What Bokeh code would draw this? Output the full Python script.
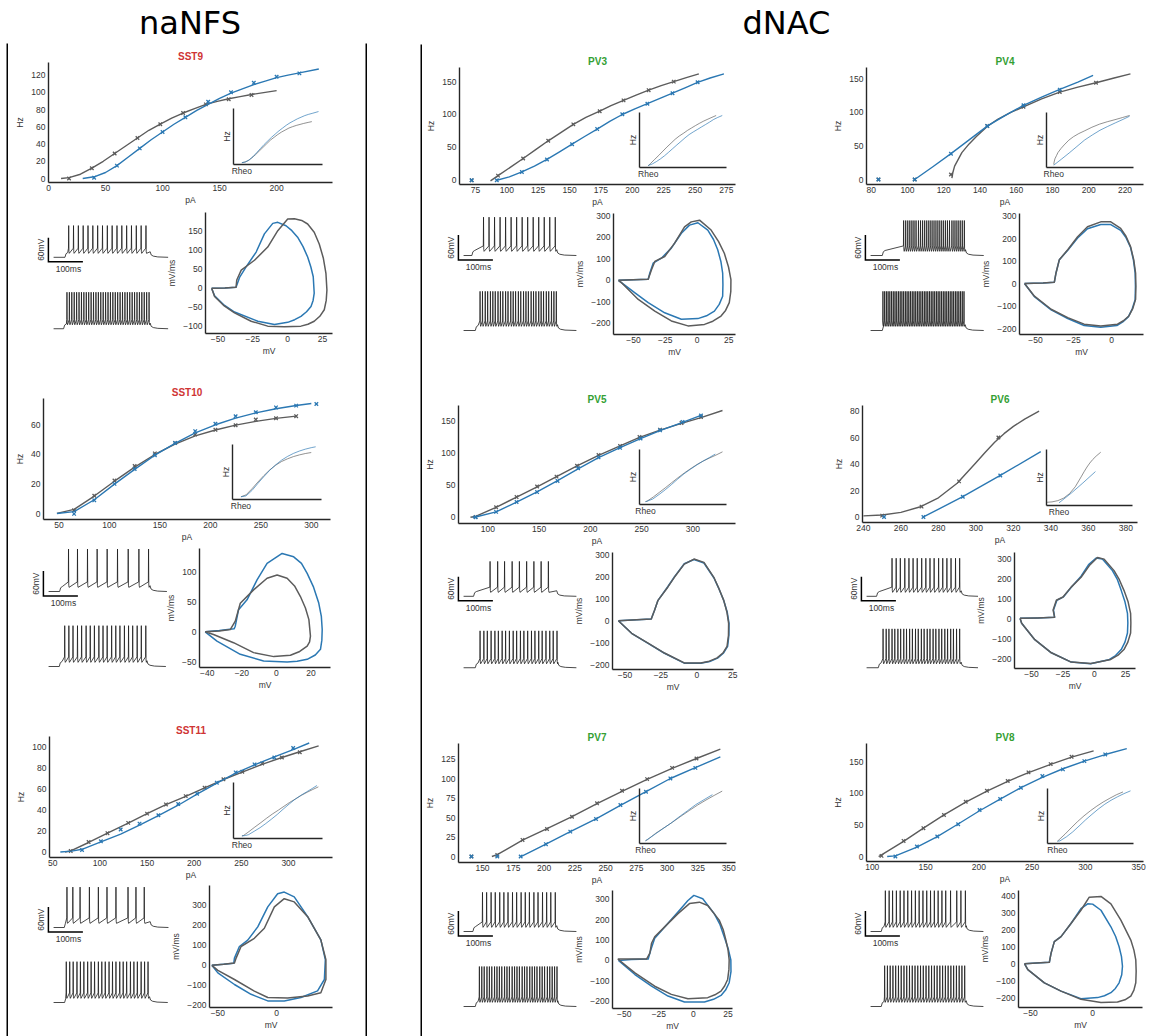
import numpy as np
from bokeh.plotting import figure
from bokeh.models import GridBox, Range1d, FixedTicker, CustomJSTickFormatter
from bokeh.embed import file_html
from bokeh.resources import INLINE
from bokeh.core.properties import value

# ============================ DATA ============================
group_titles = ["naNFS", "dNAC"]
cell_names = ["SST9", "SST10", "SST11", "PV3", "PV4", "PV5", "PV6", "PV7", "PV8"]

# ---------- SST9 ----------
sst9_mk_gray_x = [18, 38, 58, 78, 98, 118, 138, 158, 178]
sst9_mk_gray_y = [0, 12, 29, 47, 63, 76, 86, 92, 97]
sst9_fit_gray_x = [11, 18, 28, 38, 48, 58, 68, 78, 88, 98, 108, 118, 128, 138, 148, 158, 168, 178, 190, 200]
sst9_fit_gray_y = [0, 1, 5, 12, 20, 29, 38, 47, 56, 63, 70, 76, 81, 86, 89.5, 92.5, 95, 97.5, 100, 102]
sst9_mk_blue_x = [40, 60, 80, 100, 120, 140, 160, 180, 200, 220]
sst9_mk_blue_y = [1, 15, 35, 54, 71, 89, 100, 111, 118, 122]
sst9_fit_blue_x = [30, 40, 50, 60, 70, 80, 90, 100, 110, 120, 130, 140, 150, 160, 170, 180, 190, 200, 210, 220, 237]
sst9_fit_blue_y = [0, 2, 7, 15, 25, 35, 45, 54, 63, 71, 79, 86, 93, 99, 104, 109, 113, 117, 120, 122.5, 127]
sst9_rheo = [11, 30]
sst9_fi_xticks = [0, 50, 100, 150, 200]
sst9_fi_yticks = [0, 20, 40, 60, 80, 100, 120]
sst9_pp_gray_v = [-54.5, -45, -37, -36.5, -33.3, -23.8, -14.3, -7.1, 0, 4.8, 10, 14.3, 19, 22.6, 25.5, 27.4, 28.1, 27.6, 26.2, 23, 19, 14.5, 9.5, -2.4, -14.3, -26.2, -38.1, -46, -52.4, -54.5]
sst9_pp_gray_dv = [0, 1, 3, 21.7, 47.8, 73.9, 108.7, 152, 182.7, 183.5, 179, 169.7, 148, 117, 80, 39, -4.4, -32, -56.7, -74, -87, -95, -100, -101.8, -100, -87, -65, -45, -21.9, 0]
sst9_pp_blue_v = [-54.5, -45, -37, -34.5, -29.8, -22.6, -16.7, -10.7, -7.1, -1.2, 3, 7.1, 11, 14.3, 16.6, 18.3, 19, 18.2, 16.7, 13.5, 9.5, 5, 0, -9.5, -21.4, -38.1, -46, -52.4, -54.5]
sst9_pp_blue_dv = [0, 1, 3, 28.7, 56.4, 95.6, 143.6, 171.3, 174, 165, 152, 134.7, 110, 82.5, 56, 30.3, -13, -32, -48, -62, -74, -83, -90, -95.8, -87, -62.7, -43, -20, 0]
sst9_pp_xticks = [-50, -25, 0, 25]
sst9_pp_yticks = [-100, -50, 0, 50, 100, 150]
sst9_tr_top_spikes = [44, 58, 72, 86, 100, 114, 128, 142, 156, 170, 184, 198, 212, 226, 240, 254, 268]
sst9_tr_bot_spikes = [39, 46, 53, 60, 67, 74, 81, 88, 95, 102, 109, 116, 123, 130, 137, 144, 151, 158, 165, 172,
                      179, 186, 193, 200, 207, 214, 221, 228, 235, 242, 249, 256, 263, 270, 277]
sst9_tr_top_timing = [33, 280, 332]
sst9_tr_bot_timing = [29, 280, 332]
sst9_tr_peaks = [10, 22]

# ---------- SST10 ----------
sst10_mk_gray_x = [65, 85, 105, 125, 145, 165, 185, 205, 225, 245, 265, 285]
sst10_mk_gray_y = [2.4, 12.2, 22.4, 32.2, 40.7, 47.8, 53.5, 56.6, 59.7, 63.5, 64.4, 65.8]
sst10_fit_gray_x = [48, 65, 85, 105, 125, 145, 165, 185, 205, 225, 245, 265, 285]
sst10_fit_gray_y = [0.3, 3, 12, 22, 31.5, 40, 47, 52.5, 56.5, 59.8, 62.3, 64.3, 65.8]
sst10_mk_blue_x = [65, 85, 105, 125, 145, 165, 185, 205, 225, 245, 265, 285, 305]
sst10_mk_blue_y = [0, 9.1, 20.2, 30.2, 39.5, 47.7, 55.7, 60.7, 65.7, 68.4, 71.7, 72.9, 74]
sst10_fit_blue_x = [48, 65, 85, 105, 125, 145, 165, 185, 205, 225, 245, 265, 285, 300]
sst10_fit_blue_y = [0.2, 1.5, 9.5, 20, 30, 39.5, 47.5, 54.5, 60, 64.5, 68, 70.8, 73, 74.3]
sst10_rheo = [48, 48]
sst10_fi_xticks = [50, 100, 150, 200, 250, 300]
sst10_fi_yticks = [0, 20, 40, 60]
sst10_pp_gray_v = [-41.2, -33, -26.7, -23.8, -20.9, -13.2, -5.4, 0.4, 6.2, 10.5, 13.9, 16.8, 18.8, 19.7, 19.2, 17.8, 13.5, 8.1, -1.5, -13.2, -24.8, -36.4, -41.2]
sst10_pp_gray_dv = [0, 1.5, 3.8, 17.8, 48, 70.5, 90, 95.5, 90, 77, 59.3, 40, 20.5, -7.3, -17, -24, -33, -39.5, -41.7, -35, -18.3, -4.5, 0]
sst10_pp_blue_v = [-41.2, -33, -24.5, -23.8, -21.9, -17, -11.2, -5.4, 3.3, 10, 14.5, 17.8, 21.5, 24.5, 26, 26.5, 26.3, 25.5, 22.5, 17.8, 12, 6.2, -7.4, -20.9, -34.4, -41.2]
sst10_pp_blue_dv = [0, 2, 5, 9.4, 37.2, 53.8, 87.2, 115, 131.7, 126, 115, 98.3, 75, 48.3, 26, 3.8, -14, -29.5, -39, -46.2, -49.5, -50.6, -49, -37.8, -15.6, 0]
sst10_pp_xticks = [-40, -20, 0, 20]
sst10_pp_yticks = [-50, 0, 50, 100]
sst10_tr_top_spikes = [58, 84, 113, 141, 170, 200, 231, 262, 290]
sst10_tr_bot_spikes = [47, 59, 71, 84, 96, 109, 121, 133, 146, 158, 170, 183, 195, 207, 220, 232, 244, 257, 269, 282]
sst10_tr_top_timing = [32, 294, 343]
sst10_tr_bot_timing = [31, 285, 340]
sst10_tr_peaks = [32, 28]

# ---------- SST11 ----------
sst11_mk_gray_x = [69, 88, 108, 130, 150, 170, 191, 211, 231, 251, 272, 293, 312]
sst11_mk_gray_y = [0.9, 9.4, 17.9, 27.7, 36.5, 45.3, 53.2, 61.3, 69.2, 76.4, 84.3, 90, 95]
sst11_fit_gray_x = [63, 69, 88, 108, 130, 150, 170, 191, 211, 231, 251, 272, 293, 312, 332]
sst11_fit_gray_y = [0, 1, 9, 18, 27.5, 36.5, 45, 53, 61, 69, 76, 83.5, 90, 95.5, 101]
sst11_mk_blue_x = [81, 101, 122, 142, 162, 183, 203, 224, 244, 264, 285, 305]
sst11_mk_blue_y = [1.9, 10.1, 21.4, 27, 34.9, 45.7, 55.4, 66, 75.8, 83.4, 90, 99]
sst11_fit_blue_x = [58, 70, 81, 101, 122, 142, 162, 183, 203, 224, 244, 264, 285, 305, 322]
sst11_fit_blue_y = [0, 0.8, 2.5, 9.5, 17, 25.5, 34.5, 44.5, 55, 65.5, 75, 83, 90.5, 97.5, 103.8]
sst11_rheo = [63, 58]
sst11_fi_xticks = [50, 100, 150, 200, 250, 300]
sst11_fi_yticks = [0, 20, 40, 60, 80, 100]
sst11_pp_gray_v = [-55.1, -45, -35.9, -34.5, -30.3, -19, -10.5, -2, 6.4, 14.9, 26.3, 37.5, 41.8, 41.8, 37.5, 26.3, 9.3, -7.6, -19, -35.9, -50, -55.1]
sst11_pp_gray_dv = [0, 5, 11.5, 36, 94, 135, 185, 292, 333, 317, 243, 127, 28, -71, -137, -153, -163, -161, -129, -71, -25, 0]
sst11_pp_blue_v = [-55.1, -45, -36.5, -35.9, -31.7, -24.6, -16.1, -7.6, 0.8, 6.4, 14.9, 26.3, 37.5, 41.3, 40.5, 34.7, 20.6, 6.4, -7.6, -21.8, -35.9, -50, -55.1]
sst11_pp_blue_dv = [0, 5, 10, 36, 94, 126, 192, 292, 358, 366, 342, 243, 127, 28, -71, -128, -161, -178, -178, -145, -96, -38, 0]
sst11_pp_xticks = [-50, 0]
sst11_pp_yticks = [-200, -100, 0, 100, 200, 300]
sst11_tr_top_spikes = [39, 56, 77, 104, 130, 155, 181, 216, 239, 263]
sst11_tr_bot_spikes = [37, 47, 57, 68, 78, 88, 99, 109, 119, 130, 140, 150, 161, 171, 181, 192, 202, 212, 223, 233, 243, 254, 264, 274]
sst11_tr_top_timing = [31, 280, 333]
sst11_tr_bot_timing = [32, 278, 331]
sst11_tr_peaks = [27, 28]

# ---------- PV3 ----------
pv3_mk_gray_x = [72, 93, 113, 133, 153, 174, 193, 213, 233]
pv3_mk_gray_y = [0, 7, 33, 60, 85, 105, 121.5, 137, 150]
pv3_fit_gray_x = [87, 93, 103, 113, 123, 133, 143, 153, 163, 174, 183, 193, 203, 213, 223, 233, 243, 253]
pv3_fit_gray_y = [-1, 7, 20, 33, 46.5, 60, 72.5, 85, 95.5, 105, 113.5, 121.5, 129.5, 137, 144, 150, 156, 161.7]
pv3_mk_blue_x = [72, 92, 112, 132, 152, 172, 192, 212, 232, 252]
pv3_mk_blue_y = [0, 0, 12.6, 31.6, 54.8, 77.8, 100.4, 116.4, 132.4, 149]
pv3_fit_blue_x = [92, 102, 112, 122, 132, 142, 152, 162, 172, 182, 192, 202, 212, 222, 232, 242, 252, 262, 273]
pv3_fit_blue_y = [0, 5, 12.6, 21.5, 31.6, 43, 54.8, 66.5, 77.8, 89.5, 100, 108.5, 116.4, 124.5, 132.4, 140.5, 149, 155.5, 161.7]
pv3_rheo = [87, 92]
pv3_fi_xticks = [75, 100, 125, 150, 175, 200, 225, 250, 275]
pv3_fi_yticks = [0, 50, 100, 150]
pv3_pp_gray_v = [-61.8, -50, -38.4, -35.8, -33.2, -25.4, -17.6, -9.8, -4.5, 2, 11.1, 17, 21.5, 24.8, 26.7, 26.6, 25.4, 22.5, 18.9, 12.5, 5.9, -7.1, -20.2, -33.2, -46.2, -59.2, -61.8]
pv3_pp_gray_dv = [0, 3, 5, 49, 88, 111, 173, 249, 272, 280, 234, 180, 126, 62, 3, -52, -104, -140, -166, -190, -205, -212, -189, -143, -89, -12, 0]
pv3_pp_blue_v = [-61.8, -50, -38.4, -37.1, -34.5, -28, -20.2, -12.3, -5.9, 0.7, 8.5, 13, 16.3, 18.8, 20.2, 20.4, 20.2, 17.5, 13.7, 7.5, 0.7, -12.3, -25.4, -38.4, -48.8, -59.2, -61.8]
pv3_pp_blue_dv = [0, 3, 5, 34, 80, 103, 150, 219, 257, 268, 234, 190, 142, 88, 34, -20, -74, -112, -143, -165, -178, -181, -151, -104, -58, -12, 0]
pv3_pp_xticks = [-50, -25, 0, 25]
pv3_pp_yticks = [-200, -100, 0, 100, 200, 300]
pv3_tr_top_spikes = [58, 74, 90, 106, 122, 138, 154, 170, 186, 202, 218, 234, 250, 266]
pv3_tr_bot_spikes = [48, 55, 63, 70, 78, 85, 92, 100, 107, 114, 122, 129, 137, 144, 151, 159, 166, 174, 181, 188,
                     196, 203, 210, 218, 225, 232, 240, 247, 255, 262, 269]
pv3_tr_top_timing = [24, 270, 327]
pv3_tr_bot_timing = [34, 272, 327]
pv3_tr_peaks = [22, 24]

# ---------- PV4 ----------
pv4_mk_gray_x = [84, 104, 124, 144, 164, 184, 204]
pv4_mk_gray_y = [0, 0, 7.4, 79.6, 108.2, 130.3, 144]
pv4_fit_gray_x = [124.5, 125, 126, 128, 130, 134, 138, 144, 150, 157, 164, 174, 184, 194, 204, 214, 223]
pv4_fit_gray_y = [2, 10, 20, 30, 40, 53, 64, 79, 90, 100, 108, 120, 130, 137.5, 144, 151, 157.3]
pv4_mk_blue_x = [84, 104, 124, 144, 164, 184]
pv4_mk_blue_y = [0, 0, 38.3, 79.6, 110.6, 133.8]
pv4_fit_blue_x = [104, 114, 124, 134, 144, 154, 164, 174, 184, 194, 202.4]
pv4_fit_blue_y = [0, 19, 38.5, 59, 79.5, 95.5, 110.5, 122.5, 134, 145, 154.9]
pv4_rheo = [124.5, 104]
pv4_fi_xticks = [80, 100, 120, 140, 160, 180, 200, 220]
pv4_fi_yticks = [0, 50, 100, 150]
pv4_pp_gray_v = [-57.2, -45, -37.6, -36.5, -34.3, -28.8, -22.3, -15.8, -7.1, -0.5, 6, 9.5, 12.5, 14.6, 15.8, 16, 15.8, 14, 11.4, 7.8, 3.9, -7.1, -18, -28.8, -39.7, -50.7, -57.2]
pv4_pp_gray_dv = [0, 3, 6, 47, 106, 150, 208, 252, 274, 274, 245, 210, 164, 105, 47, -12, -70, -110, -144, -165, -180, -188, -180, -151, -114, -56, 0]
pv4_pp_blue_v = [-57.2, -45, -37.6, -36.5, -34.3, -28.8, -22.3, -15.8, -7.1, -0.5, 6, 9.5, 12.5, 14.4, 15.5, 15.7, 15.5, 13.6, 11, 7.4, 3.5, -7.1, -18, -28.8, -39.7, -50.7, -57.2]
pv4_pp_blue_dv = [0, 3, 6, 47, 106, 148, 202, 243, 262, 262, 236, 204, 160, 104, 47, -12, -72, -112, -148, -170, -186, -194, -186, -155, -117, -58, 0]
pv4_pp_xticks = [-50, -25, 0]
pv4_pp_yticks = [-200, -100, 0, 100, 200, 300]
pv4_tr_top_spikes = [96, 102, 108, 114, 120, 126, 132, 139, 145, 151, 157, 163, 169, 175, 181, 187, 193, 199, 205, 211,
                     217, 223, 229, 236, 242, 248, 254, 260, 266, 272]
pv4_tr_bot_spikes = [36, 41, 46, 51, 56, 61, 66, 71, 76, 81, 86, 91, 96, 101, 106, 111, 116, 121, 126, 131, 136, 141,
                     146, 151, 156, 161, 166, 171, 176, 181, 186, 191, 196, 201, 206, 211, 216, 221, 226, 231, 236,
                     241, 246, 251, 256, 261, 266, 271]
pv4_tr_top_timing = [34, 275, 328]
pv4_tr_bot_timing = [34, 274, 328]
pv4_tr_peaks = [14, 24]

# ---------- PV5 ----------
pv5_mk_gray_x = [88, 108, 128, 148, 167, 187, 208, 229, 248, 268, 289, 308]
pv5_mk_gray_y = [0.6, 15.5, 31.5, 48, 63.4, 80.4, 97, 111.3, 125.2, 136.7, 147, 156.2]
pv5_fit_gray_x = [83, 88, 108, 128, 148, 167, 187, 208, 229, 248, 268, 289, 308, 329]
pv5_fit_gray_y = [0, 1.5, 15.5, 31.5, 47.5, 63.5, 80, 96.5, 111.5, 124.5, 136, 146.5, 155.5, 166.5]
pv5_mk_blue_x = [88, 108, 128, 148, 168, 188, 208, 229, 249, 268, 290, 308]
pv5_mk_blue_y = [0, 8.4, 23.8, 39.3, 56.7, 76.4, 93.4, 108.3, 122.8, 135.6, 148.8, 158.8]
pv5_fit_blue_x = [85, 88, 108, 128, 148, 168, 188, 208, 229, 249, 268, 290, 308]
pv5_fit_blue_y = [0, 0.5, 8.5, 23.5, 39.5, 57, 75.5, 93, 108.5, 122.5, 135, 148, 159]
pv5_rheo = [83, 85]
pv5_fi_xticks = [100, 150, 200, 250, 300]
pv5_fi_yticks = [0, 50, 100, 150]
pv5_pp_gray_v = [-54.6, -45, -31.7, -29.4, -27, -20.2, -15.6, -8.7, -1.9, 5, 11.9, 15.5, 18.8, 21, 22.2, 22.1, 21.1, 18.2, 14.2, 8.8, 2.8, -8.7, -22.5, -33.9, -45.4, -54.6]
pv5_pp_gray_dv = [0, 3, 8, 48, 93, 153, 198, 258, 281, 266, 198, 146, 93, 40, -12, -66, -117, -147, -169, -184, -192, -192, -147, -102, -57, 0]
pv5_pp_blue_v = [-54.6, -45, -31.7, -29.4, -27, -20.2, -15.6, -8.7, -1.9, 5, 11.9, 15.5, 18.8, 21.2, 22.5, 22.4, 21.5, 18.5, 14.5, 9, 2.8, -8.7, -22.5, -33.9, -45.4, -54.6]
pv5_pp_blue_dv = [0, 3, 8, 48, 93, 155, 200, 260, 279, 263, 196, 145, 92, 40, -12, -66, -117, -148, -170, -186, -194, -193, -148, -103, -57, 0]
pv5_pp_xticks = [-50, -25, 0, 25]
pv5_pp_yticks = [-200, -100, 0, 100, 200, 300]
pv5_tr_top_spikes = [77, 99, 119, 141, 162, 183, 204, 225, 246]
pv5_tr_bot_spikes = [48, 59, 69, 80, 91, 101, 112, 122, 133, 144, 154, 165, 175, 186, 197, 207, 218, 228, 239, 250, 260, 271]
pv5_tr_top_timing = [29, 270, 327]
pv5_tr_bot_timing = [34, 273, 327]
pv5_tr_peaks = [18, 23]

# ---------- PV6 ----------
pv6_mk_gray_x = [250, 271, 291, 312]
pv6_mk_gray_y = [1, 7.8, 26.9, 60.1]
pv6_fit_gray_x = [240, 250, 260, 270, 280, 290, 300, 305, 310, 315, 320, 326, 333.7]
pv6_fit_gray_y = [0.8, 1.5, 3.5, 7.5, 14.5, 25.5, 41, 49, 56.5, 63, 68.5, 74, 80]
pv6_mk_blue_x = [251, 272, 293, 313]
pv6_mk_blue_y = [0, 0, 15.3, 31.4]
pv6_fit_blue_x = [272, 293, 313, 334.6]
pv6_fit_blue_y = [0, 15.3, 31.4, 49.4]
pv6_rheo = [262, 272]
pv6_fi_xticks = [240, 260, 280, 300, 320, 340, 360, 380]
pv6_fi_yticks = [0, 20, 40, 60, 80]
pv6_pp_gray_v = [-59.2, -45, -31.6, -32.8, -30.2, -24.9, -18.4, -10.5, -3.9, 2.6, 7.9, 15.8, 20, 23.7, 27, 29, 29.2, 29, 26.8, 23.7, 19, 13.2, -2.6, -18.4, -34.2, -47.4, -57.9, -59.2]
pv6_pp_gray_dv = [3, 5, 8, 44, 93, 109, 158, 207, 265, 305, 297, 240, 195, 142, 85, 28, -20, -70, -115, -152, -180, -201, -221, -214, -168, -103, -21, 3]
pv6_pp_blue_v = [-59.2, -45, -31.6, -32.5, -29.8, -24.5, -18, -10.5, -4.5, 1.5, 6.5, 14.5, 18.5, 21.5, 24.5, 26.5, 26.8, 26.5, 24.5, 21.5, 17, 11.5, -3, -18.4, -34.2, -47.4, -57.9, -59.2]
pv6_pp_blue_dv = [3, 5, 8, 44, 93, 110, 160, 212, 270, 303, 298, 240, 195, 142, 85, 28, -20, -70, -115, -152, -182, -203, -222, -214, -168, -103, -21, 3]
pv6_pp_xticks = [-50, -25, 0, 25]
pv6_pp_yticks = [-200, -100, 0, 100, 200, 300]
pv6_tr_top_spikes = [74, 86, 98, 111, 123, 135, 147, 160, 172, 184, 196, 209, 221, 233, 245, 258, 270]
pv6_tr_bot_spikes = [48, 57, 65, 74, 82, 91, 99, 108, 116, 125, 133, 142, 150, 159, 167, 176, 184, 193, 201, 210,
                     218, 227, 235, 244, 252, 261, 270]
pv6_tr_top_timing = [29, 274, 323]
pv6_tr_bot_timing = [34, 274, 323]
pv6_tr_peaks = [26, 28]

# ---------- PV7 ----------
pv7_mk_gray_x = [141, 162, 182.5, 202.4, 222.7, 243, 263.3, 283.7, 304, 323.8]
pv7_mk_gray_y = [0, 2.1, 21.4, 35.5, 51.3, 68.5, 84.7, 99.7, 114.2, 126.3]
pv7_fit_gray_x = [157.6, 162, 172, 182.5, 202.4, 222.7, 243, 263.3, 283.7, 304, 323.8, 343.2]
pv7_fit_gray_y = [0, 2.5, 11.5, 21, 36, 51.5, 68, 84, 99.5, 113.5, 126.3, 138.3]
pv7_mk_blue_x = [141, 162, 181, 201.5, 221.3, 242.2, 262, 282.8, 302.6, 322.9]
pv7_mk_blue_y = [0, 0, 0, 15.9, 32.1, 48.4, 66.4, 83.4, 100.6, 114.2]
pv7_fit_blue_x = [181.2, 191, 201.5, 221.3, 242.2, 262, 282.8, 302.6, 322.9, 343.2]
pv7_fit_blue_y = [0, 7.5, 15.9, 32, 48.5, 66, 83.5, 100.5, 114.5, 128.4]
pv7_rheo = [157.6, 181.2]
pv7_fi_xticks = [150, 175, 200, 225, 250, 275, 300, 325, 350]
pv7_fi_yticks = [0, 25, 50, 75, 100, 125]
pv7_pp_gray_v = [-54.7, -45, -33.9, -31.5, -30.3, -28, -20.8, -11.2, -2.9, 4.3, 10.3, 18.6, 21.5, 23.4, 25, 25.8, 25.6, 24.7, 22.5, 19.9, 15.5, 10.3, -4, -16, -28, -42.3, -54.7]
pv7_pp_gray_dv = [7, 7, 7, 36, 84, 116, 164, 229, 278, 285, 269, 197, 150, 100, 50, 3, -45, -93, -125, -150, -168, -182, -187, -166, -126, -61, 7]
pv7_pp_blue_v = [-54.2, -45, -32.7, -30.8, -28, -20.8, -11.2, -4, 0.3, 6.7, 15, 19.2, 22.2, 25, 27, 27.1, 25.8, 23.2, 19.9, 14.5, 7.9, -6.5, -18.4, -30.3, -42.3, -54.2]
pv7_pp_blue_dv = [0, 5, 7, 52, 108, 164, 237, 293, 318, 302, 229, 175, 116, 60, 3, -55, -109, -145, -171, -190, -203, -203, -174, -126, -69, 0]
pv7_pp_xticks = [-50, -25, 0, 25]
pv7_pp_yticks = [-200, -100, 0, 100, 200, 300]
pv7_tr_top_spikes = [55, 67, 80, 92, 105, 117, 129, 142, 154, 167, 179, 191, 204, 216, 229, 241, 253, 266]
pv7_tr_bot_spikes = [46, 53, 60, 68, 75, 82, 90, 97, 104, 111, 119, 126, 133, 141, 148, 155, 162, 170, 177, 184,
                     192, 199, 206, 213, 221, 228, 235, 243, 250, 257, 264, 271]
pv7_tr_top_timing = [27, 270, 327]
pv7_tr_bot_timing = [34, 273, 327]
pv7_tr_peaks = [24, 26]

# ---------- PV8 ----------
pv8_mk_gray_x = [108.7, 129.4, 148, 167.3, 187.7, 207.6, 227.1, 246.6, 267.4, 287]
pv8_mk_gray_y = [1, 24.7, 44.9, 65.8, 86.8, 104.2, 119.5, 133.3, 146.3, 157.9]
pv8_fit_gray_x = [106, 108.7, 129.4, 148, 167.3, 187.7, 207.6, 227.1, 246.6, 267.4, 287, 307.7]
pv8_fit_gray_y = [0, 2.5, 24, 45, 66, 86, 103.5, 119, 133, 146, 157.5, 167.4]
pv8_mk_blue_x = [121.7, 141.9, 161, 180.6, 200.7, 220, 239.5, 259.6, 278.9, 299, 318.6]
pv8_mk_blue_y = [0, 15.8, 31.6, 51.2, 73.7, 91.1, 108.9, 127.4, 138, 151.1, 161.7]
pv8_fit_blue_x = [114, 121.7, 141.9, 161, 180.6, 200.7, 220, 239.5, 259.6, 278.9, 299, 318.6, 338.8]
pv8_fit_blue_y = [0, 1, 15, 31.5, 51.5, 72.5, 91, 109, 125.5, 139, 151, 161.5, 171]
pv8_rheo = [106, 114]
pv8_fi_xticks = [100, 150, 200, 250, 300, 350]
pv8_fi_yticks = [0, 50, 100, 150]
pv8_pp_gray_v = [-54.8, -45, -34.8, -33.4, -30.8, -25.4, -17.4, -9.4, -2.7, 6.7, 14.7, 22.7, 30.7, 33.2, 34.7, 35, 34.7, 33.2, 30.7, 26, 20, 6.7, -9.4, -25.4, -38.8, -52.1, -54.8]
pv8_pp_gray_dv = [0, 4, 8, 62, 130, 159, 236, 314, 391, 395, 352, 256, 139, 80, 23, -45, -112, -155, -190, -212, -225, -228, -209, -161, -112, -35, 0]
pv8_pp_blue_v = [-54.8, -45, -34.8, -33.4, -30.8, -25.4, -17.4, -9.4, -4, 0, 6.7, 14.7, 18.5, 21.3, 23.2, 24, 23.4, 21.3, 18.3, 14.7, 9.5, 4, -9.4, -25.4, -38.8, -52.1, -54.8]
pv8_pp_blue_dv = [0, 4, 8, 62, 130, 159, 236, 323, 352, 350, 314, 217, 160, 100, 42, -15, -65, -112, -145, -170, -188, -199, -205, -161, -112, -35, 0]
pv8_pp_xticks = [-50, 0]
pv8_pp_yticks = [-200, -100, 0, 100, 200, 300, 400]
pv8_tr_top_spikes = [43, 54, 64, 75, 86, 97, 108, 119, 130, 141, 152, 163, 174, 185, 196, 207, 218, 232, 250, 262, 275]
pv8_tr_bot_spikes = [41, 49, 57, 65, 73, 81, 89, 97, 105, 113, 121, 129, 137, 145, 153, 161, 169, 177, 185, 193,
                     201, 209, 217, 225, 233, 241, 249, 257, 265, 273]
pv8_tr_top_timing = [31, 277, 327]
pv8_tr_bot_timing = [31, 277, 327]
pv8_tr_peaks = [28, 28]

# voltage levels of the traces (mV)
V_REST, V_PLAT, V_THR, V_AHP = -70, -58, -47, -60

# ============================ LAYOUT ============================
OX, OY = 0, 0
W, H = 1151, 1036
GRAY, BLUE = "#5c5c5c", "#2b78b3"
SPINE, TXT = "#262626", "#333333"
FONT = "Liberation Sans"
RED, GREEN = "#cf3434", "#34a034"
PX_MS, PX_MV = 0.345, 25.0 / 60.0
BOT_OFFSET = -180.0

# page-pixel frames (left, top, right, bottom) and axis limits
LAYOUT = {
    "SST9":  dict(color=RED, fi=(48, 62, 332, 183), fix=(0, 249), fiy=(-4.6, 134.6),
                  inset=(233, 108, 322, 165), insx=(-22.7, 217.8),
                  pp=(204, 212, 332, 334), ppx=(-58.9, 32.1), ppy=(-119.4, 200), tr=(53, 253)),
    "SST10": dict(color=RED, fi=(43, 398, 330, 520), fix=(34.7, 319), fiy=(-3.8, 77.7),
                  inset=(232, 444, 321, 500), insx=(-28.5, 271.6),
                  pp=(199, 548, 330, 668), ppx=(-44.5, 31.3), ppy=(-60, 140), tr=(48, 591)),
    "SST11": dict(color=RED, fi=(49, 736, 332, 858), fix=(46.5, 346.7), fiy=(-5.3, 110),
                  inset=(233, 782, 322, 839), insx=(-29.6, 283.6),
                  pp=(208, 885, 332, 1008), ppx=(-57.1, 47.4), ppy=(-211, 399), tr=(53, 927)),
    "PV3":   dict(color=GREEN, fi=(459, 67, 735, 185), fix=(62.3, 282.2), fiy=(-6.5, 171.5),
                  inset=(639, 112, 726, 168), insx=(-21.3, 191.4),
                  pp=(612, 213, 735, 335), ppx=(-65.7, 30.3), ppy=(-252, 311), tr=(463, 255)),
    "PV4":   dict(color=GREEN, fi=(866, 67, 1143, 185), fix=(77.4, 230.2), fiy=(-7.4, 166.7),
                  inset=(1046, 112, 1133, 168), insx=(-9.4, 103.5),
                  pp=(1018, 213, 1143, 335), ppx=(-60.5, 21), ppy=(-226, 311), tr=(870, 255)),
    "PV5":   dict(color=GREEN, fi=(458, 405, 735, 524), fix=(71.3, 341.7), fiy=(-9.7, 174.3),
                  inset=(639, 449, 726, 505), insx=(-19.2, 258.8),
                  pp=(611, 552, 733, 670), ppx=(-58.7, 25.6), ppy=(-222, 311), tr=(463, 592)),
    "PV6":   dict(color=GREEN, fi=(862, 405, 1137, 523), fix=(239.5, 386.2), fiy=(-4.2, 84.3),
                  inset=(1046, 449, 1132, 506), insx=(-21.5, 126.3),
                  pp=(1013, 552, 1135, 669), ppx=(-63.6, 32.9), ppy=(-246, 330), tr=(866, 592)),
    "PV7":   dict(color=GREEN, fi=(458, 743, 735, 863), fix=(130.5, 355.5), fiy=(-7.7, 145.6),
                  inset=(639, 788, 726, 844), insx=(-14.5, 196),
                  pp=(611, 890, 732, 1009), ppx=(-58.5, 28.2), ppy=(-235, 342), tr=(463, 931)),
    "PV8":   dict(color=GREEN, fi=(866, 743, 1143, 862), fix=(94.6, 354.5), fiy=(-7.9, 179),
                  inset=(1047, 788, 1133, 844), insx=(-30.6, 234),
                  pp=(1017, 890, 1142, 1008), ppx=(-59.6, 40.1), ppy=(-257, 430), tr=(870, 931)),
}

KEYS = ["mk_gray_x", "mk_gray_y", "fit_gray_x", "fit_gray_y", "mk_blue_x", "mk_blue_y",
        "fit_blue_x", "fit_blue_y", "rheo", "fi_xticks", "fi_yticks", "pp_gray_v", "pp_gray_dv",
        "pp_blue_v", "pp_blue_dv", "pp_xticks", "pp_yticks", "tr_top_spikes", "tr_bot_spikes",
        "tr_top_timing", "tr_bot_timing", "tr_peaks"]
_g = globals()
CELLS = {n: {k: _g[f"{n.lower()}_{k}"] for k in KEYS} for n in cell_names}

MINUS_FMT = CustomJSTickFormatter(code="return tick < 0 ? '\\u2212' + String(-tick) : String(tick);")

placements = []


def make_fig(frame, pad, xr, yr, axes=True):
    L, T, R, B = frame
    bl, bt, br, bb = pad
    bl = min(bl, L - OX)
    bt = min(bt, T - OY)
    br = max(0, min(br, OX + W - R))
    bb = max(0, min(bb, OY + H - B))
    w, h = (R - L) + bl + br, (B - T) + bt + bb
    kw = {} if axes else dict(x_axis_type=None, y_axis_type=None)
    p = figure(width=w, height=h, x_range=Range1d(*xr), y_range=Range1d(*yr),
               min_border_left=bl, min_border_right=br, min_border_top=bt, min_border_bottom=bb,
               output_backend="svg", toolbar_location=None, tools="", **kw)
    p.background_fill_color = None
    p.border_fill_color = None
    p.outline_line_color = None
    if axes:
        p.xgrid.visible = False
        p.ygrid.visible = False
    placements.append((p, L - bl - OX, T - bt - OY, w, h))
    return p


def make_bar(L, T, R, B):
    """solid black rule used for the group boxes"""
    p = figure(width=R - L, height=B - T, x_range=Range1d(0, 1), y_range=Range1d(0, 1),
               x_axis_type=None, y_axis_type=None, min_border=0,
               output_backend="svg", toolbar_location=None, tools="")
    p.background_fill_color = "black"
    p.border_fill_color = "black"
    p.outline_line_color = None
    placements.append((p, L - OX, T - OY, R - L, B - T))
    return p


def style_axis(ax, ticks, label=None, lab_standoff=2, tick_standoff=2):
    ax.axis_line_color = SPINE
    ax.axis_line_width = 1.4
    ax.major_tick_line_color = None
    ax.minor_tick_line_color = None
    ax.major_tick_out = 0
    ax.major_tick_in = 0
    ax.major_label_text_font = FONT
    ax.major_label_text_font_size = "8.5px"
    ax.major_label_text_color = TXT
    ax.axis_label_text_font = FONT
    ax.axis_label_text_font_size = "8.5px"
    ax.axis_label_text_color = TXT
    ax.axis_label_text_font_style = "normal"
    ax.major_label_standoff = tick_standoff
    ax.axis_label_standoff = lab_standoff
    ax.ticker = FixedTicker(ticks=ticks)
    ax.formatter = MINUS_FMT
    if label is not None:
        ax.axis_label = label


def trace_xy(timing, spikes, peak, offset):
    t_on, t_off, t_end = timing
    ts = [0, t_on, t_on + 3]
    vs = [V_REST, V_REST, V_PLAT - 3]
    if spikes[0] - 1 > t_on + 8:
        ts.append(t_on + 8)
        vs.append(V_PLAT)
    for s in spikes:
        ts += [s - 0.8, s - 0.2, s + 0.5, s + 1.5]
        vs += [V_THR, peak, V_THR - 8, V_AHP]
    ts += [t_off, t_off + 3, t_off + 9, t_off + 22, t_end]
    vs += [V_PLAT + 2, -64, -67, -69, V_REST]
    return ts, [v + offset for v in vs]


# ---------- group titles ----------
for ttl, cx in zip(group_titles, [189.5, 786]):
    tf = make_fig((int(cx) - 80, 2, int(cx) + 80, 42), (0, 0, 0, 0), (-80, 80), (0, 40), axes=False)
    tf.text(x=[cx - int(cx)], y=[20], text=[ttl], text_font=value("DejaVu Sans"), text_font_size="32px",
            text_align="center", text_baseline="middle", text_color="black")

# ---------- group boxes ----------
make_bar(6, 43, 8, H)
make_bar(6, 43, 367, 45)
make_bar(365, 43, 367, H)
make_bar(420, 44, 422, H)
make_bar(420, 44, W, 46)

# ---------- cells ----------
for name in cell_names:
    d = CELLS[name]
    lay = LAYOUT[name]

    # f-I curve
    p = make_fig(lay["fi"], (40, 22, 6, 24), lay["fix"], lay["fiy"])
    p.title.text = name
    p.title.align = "center"
    p.title.text_font = FONT
    p.title.text_font_size = "10px"
    p.title.text_font_style = "bold"
    p.title.text_color = lay["color"]
    p.title.standoff = 2
    style_axis(p.xaxis[0], d["fi_xticks"], "pA", lab_standoff=1, tick_standoff=2)
    style_axis(p.yaxis[0], d["fi_yticks"], "Hz", lab_standoff=3, tick_standoff=3)
    p.line(d["fit_gray_x"], d["fit_gray_y"], line_color=GRAY, line_width=1.4, line_join="round")
    p.scatter(d["mk_gray_x"], d["mk_gray_y"], marker="x", size=5, line_color=GRAY, line_width=1.3)
    p.line(d["fit_blue_x"], d["fit_blue_y"], line_color=BLUE, line_width=1.4, line_join="round")
    p.scatter(d["mk_blue_x"], d["mk_blue_y"], marker="x", size=5, line_color=BLUE, line_width=1.3)

    # inset (curves aligned on rheobase)
    q = make_fig(lay["inset"], (16, 2, 2, 13), lay["insx"], lay["fiy"])
    style_axis(q.yaxis[0], [], "Hz", lab_standoff=2, tick_standoff=0)
    style_axis(q.xaxis[0], [0], None, tick_standoff=1)
    q.xaxis[0].formatter = CustomJSTickFormatter(code="return 'Rheo';")
    q.line(np.array(d["fit_gray_x"]) - d["rheo"][0], d["fit_gray_y"], line_color=GRAY, line_width=0.9,
           line_alpha=0.75, line_join="round")
    q.line(np.array(d["fit_blue_x"]) - d["rheo"][1], d["fit_blue_y"], line_color=BLUE, line_width=0.9,
           line_alpha=0.75, line_join="round")

    # voltage traces with scale bar
    x0, yb = lay["tr"]
    tmin, wpx, hpx, above = -64, 141, 126, 46
    Lt = x0 - int(round(-tmin * PX_MS))
    frame = (Lt, yb - above, Lt + wpx, yb - above + hpx)
    xr = (tmin, tmin + wpx / PX_MS)
    yr = (V_REST - (hpx - above) / PX_MV, V_REST + above / PX_MV)
    r = make_fig(frame, (0, 0, 0, 0), xr, yr, axes=False)
    tx, vy = trace_xy(d["tr_top_timing"], d["tr_top_spikes"], d["tr_peaks"][0], 0.0)
    r.line(tx, vy, line_color="#1c1c1c", line_width=0.8)
    tx, vy = trace_xy(d["tr_bot_timing"], d["tr_bot_spikes"], d["tr_peaks"][1], BOT_OFFSET)
    r.line(tx, vy, line_color="#1c1c1c", line_width=0.8)
    r.line([-15, -15, 85], [-21, -81, -81], line_color="black", line_width=1.5, line_join="miter")
    r.text(x=[-15], y=[-51], text=["60mV"], angle=np.pi / 2, x_offset=-2,
           text_font=value(FONT), text_font_size="8.5px", text_align="center",
           text_baseline="bottom", text_color=TXT)
    r.text(x=[43], y=[-81], text=["100ms"], y_offset=2,
           text_font=value(FONT), text_font_size="8.5px", text_align="center",
           text_baseline="top", text_color=TXT)

    # phase plot
    s = make_fig(lay["pp"], (40, 6, 6, 24), lay["ppx"], lay["ppy"])
    style_axis(s.xaxis[0], d["pp_xticks"], "mV", lab_standoff=1, tick_standoff=2)
    style_axis(s.yaxis[0], d["pp_yticks"], "mV/ms", lab_standoff=3, tick_standoff=3)
    s.line(d["pp_blue_v"], d["pp_blue_dv"], line_color=BLUE, line_width=1.5, line_join="round")
    s.line(d["pp_gray_v"], d["pp_gray_dv"], line_color=GRAY, line_width=1.5, line_join="round")

# ---------- grid with absolute tracks ----------
xs = sorted({0, W} | {l for _, l, _, w, _ in placements} | {l + w for _, l, _, w, _ in placements})
ys = sorted({0, H} | {t for _, _, t, _, h in placements} | {t + h for _, _, t, _, h in placements})
xi = {v: i for i, v in enumerate(xs)}
yi = {v: i for i, v in enumerate(ys)}
children = [(p, yi[t], xi[l], yi[t + h] - yi[t], xi[l + w] - xi[l]) for p, l, t, w, h in placements]
grid = GridBox(children=children,
               rows=[f"{ys[i + 1] - ys[i]}px" for i in range(len(ys) - 1)],
               cols=[f"{xs[i + 1] - xs[i]}px" for i in range(len(xs) - 1)],
               spacing=0)

open("out.html", "w").write(file_html(grid, INLINE))
